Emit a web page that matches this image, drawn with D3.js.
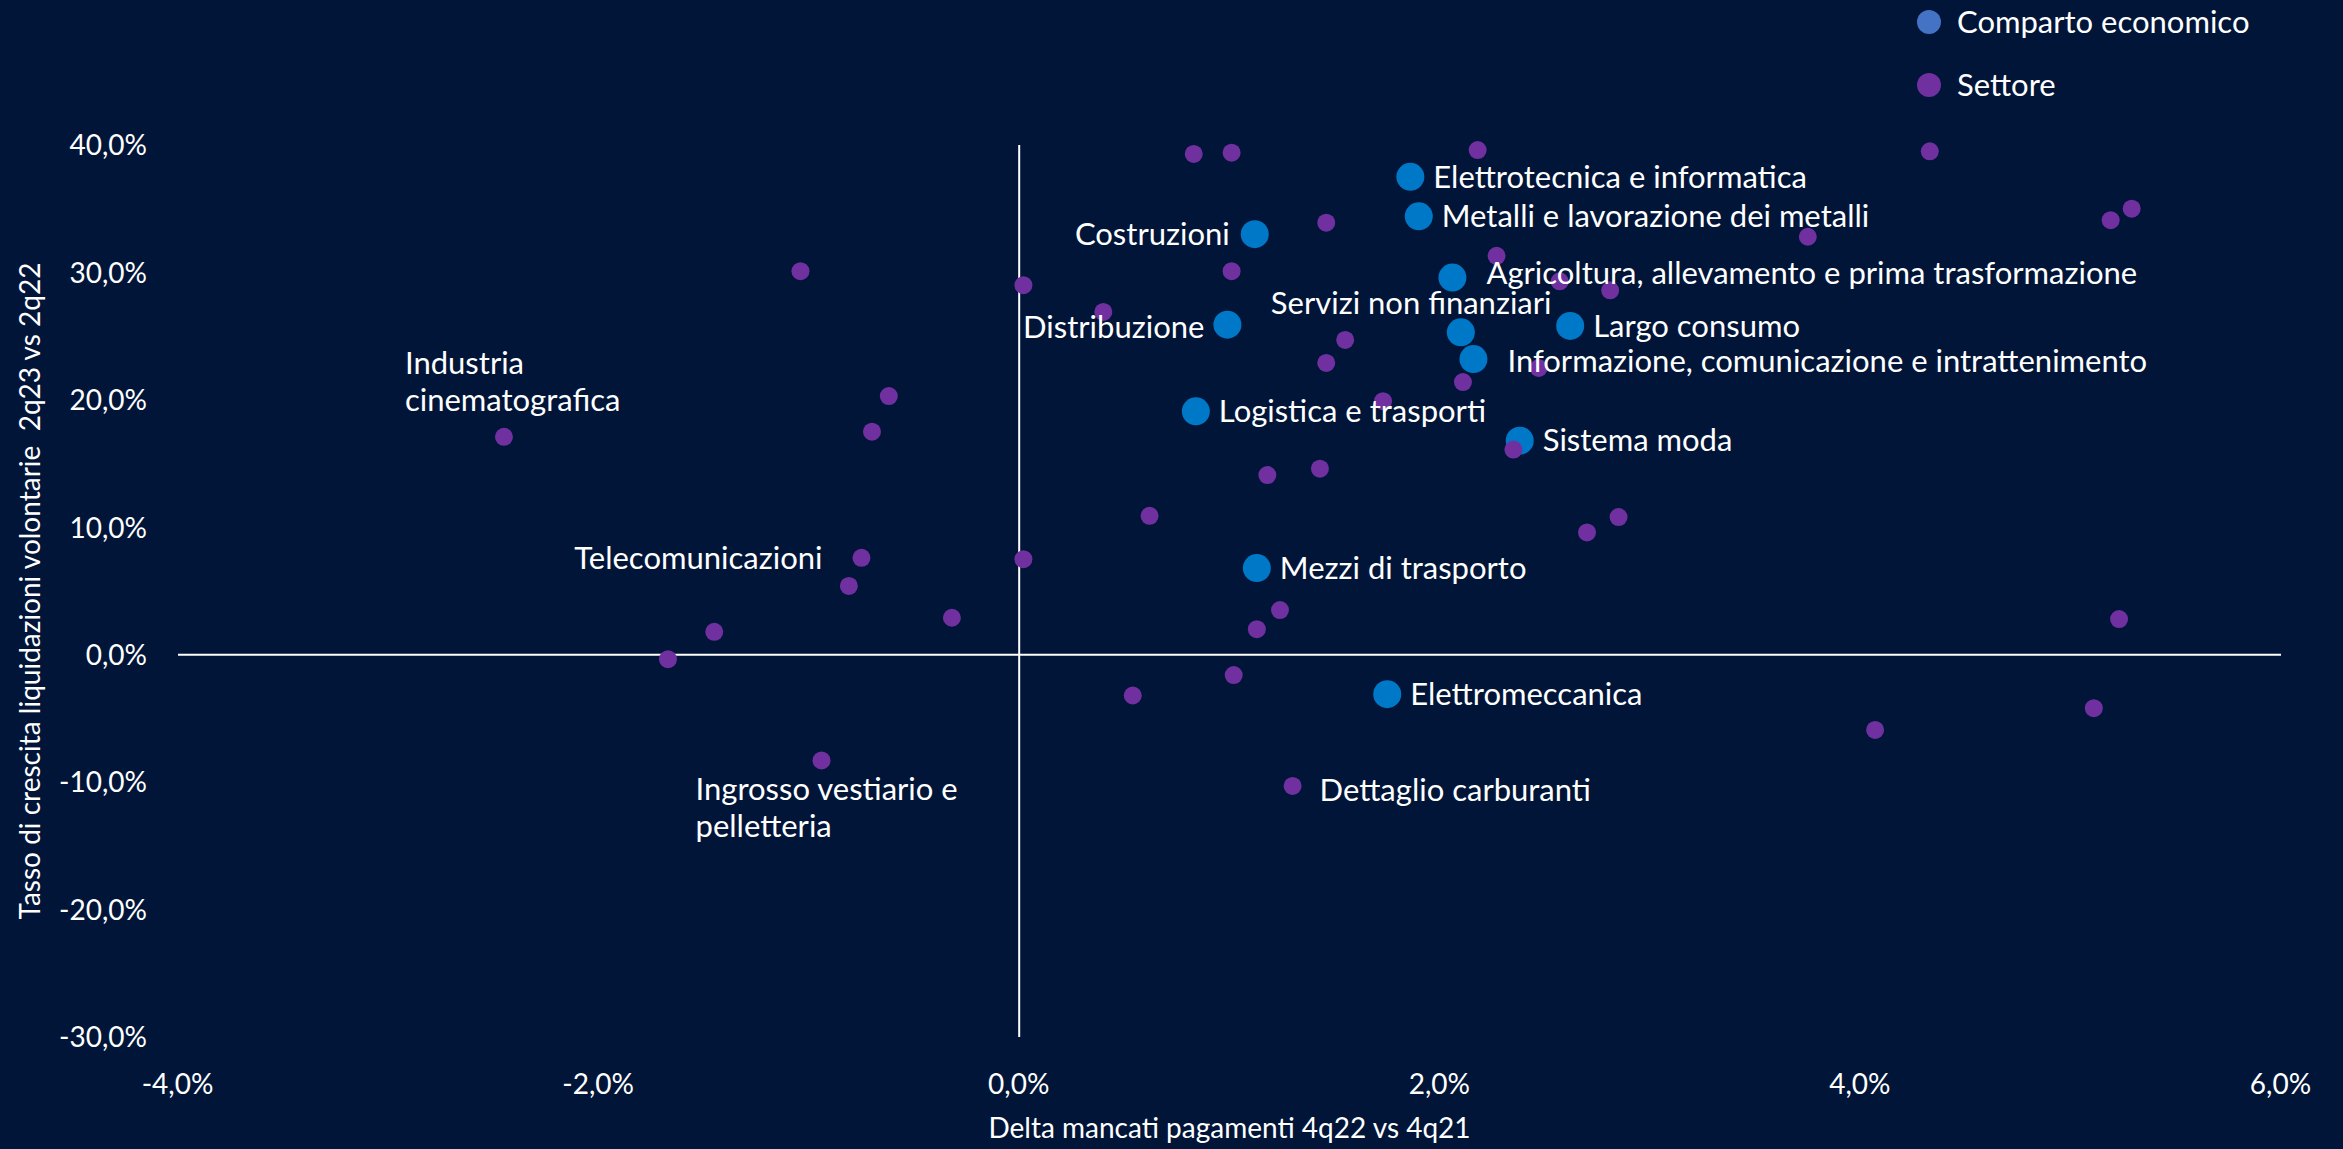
<!DOCTYPE html>
<html>
<head>
<meta charset="utf-8">
<script src="https://cdn.jsdelivr.net/npm/d3@7"></script>
<style>
  html, body { margin: 0; padding: 0; background: #001538; }
  svg { display: block; }
  text { font-family: "Source Sans Pro", Lato, "Noto Sans", sans-serif; fill: #ffffff; }
</style>
</head>
<body>
<svg id="chart"></svg>
<script>
var W = 2343;
var H = 1149;
const BG_COLOR = '#001538';
const COMPARTO_COLOR = '#0078c8';
const SETTORE_COLOR = '#7030a0';
const LEGEND_COMPARTO = '#4472c4';

// comparti economici (grandi, blu) - x: delta mancati pagamenti, y: tasso crescita liquidazioni
var comparto_names = [
    "Elettrotecnica e informatica",
    "Metalli e lavorazione dei metalli",
    "Costruzioni",
    "Agricoltura, allevamento e prima trasformazione",
    "Distribuzione",
    "Servizi non finanziari",
    "Largo consumo",
    "Informazione, comunicazione e intrattenimento",
    "Logistica e trasporti",
    "Sistema moda",
    "Mezzi di trasporto",
    "Elettromeccanica"
];
var comparto_x = [1.86, 1.90, 1.12, 2.06, 0.99, 2.10, 2.62, 2.16, 0.84, 2.38, 1.13, 1.75];
var comparto_y = [37.5, 34.4, 33.0, 29.6, 25.9, 25.3, 25.8, 23.2, 19.1, 16.8, 6.8, -3.1];

// settori (piccoli, viola)
var settore_x = [0.83, 1.01, 2.18, 4.33, 5.29, 5.19, 1.46, 3.75, 2.27, -1.04, 1.01, 0.02,
                 2.57, 2.81, 0.40, 1.55, 1.46, 2.47, 2.11, -0.62, 1.73, -0.70, -2.45, 2.35,
                 1.43, 1.18, 0.62, 2.85, 2.70, -0.75, 0.02, -0.81, -0.32, 1.24, 5.23, 1.13,
                 -1.45, -1.67, 0.54, 1.02, 5.11, 4.07, -0.94, 1.30];
var settore_y = [39.3, 39.4, 39.6, 39.5, 35.0, 34.1, 33.9, 32.8, 31.3, 30.1, 30.1, 29.0,
                 29.3, 28.6, 26.9, 24.7, 22.9, 22.5, 21.4, 20.3, 19.9, 17.5, 17.1, 16.1,
                 14.6, 14.1, 10.9, 10.8, 9.6, 7.6, 7.5, 5.4, 2.9, 3.5, 2.8, 2.0,
                 1.8, -0.35, -3.2, -1.6, -4.2, -5.9, -8.3, -10.3];
// settori con etichetta (indice nella lista settori)
var settore_labels = [
    {idx: 22, lines: ["Industria", "cinematografica"]},
    {idx: 29, lines: ["Telecomunicazioni"]},
    {idx: 42, lines: ["Ingrosso vestiario e", "pelletteria"]},
    {idx: 43, lines: ["Dettaglio carburanti"]}
];

var x_ticks = [-4, -2, 0, 2, 4, 6];
var y_ticks = [40, 30, 20, 10, 0, -10, -20, -30];
var legend_items = ["Comparto economico", "Settore"];

// label placement (offsets in pixel from the point)
var comparto_label_pos = [
    {dx: 23, dy: 0, anchor: "start"},
    {dx: 23, dy: 0, anchor: "start"},
    {dx: -25, dy: 0, anchor: "end"},
    {dx: 34, dy: -4, anchor: "start"},
    {dx: -23, dy: 2, anchor: "end"},
    {dx: -190, dy: -29, anchor: "start"},
    {dx: 23, dy: 0, anchor: "start"},
    {dx: 34, dy: 2, anchor: "start"},
    {dx: 23, dy: 0, anchor: "start"},
    {dx: 23, dy: 0, anchor: "start"},
    {dx: 23, dy: 0, anchor: "start"},
    {dx: 23, dy: 0, anchor: "start"}
];
var settore_label_pos = [
    {dx: -99, dy: -74, anchor: "start"},
    {dx: -39, dy: 0, anchor: "end"},
    {dx: -126, dy: 29, anchor: "start"},
    {dx: 27, dy: 4, anchor: "start"}
];

var fmt = function(v){ return d3.format(".1f")(v).replace(".", ",").replace("\u2212", "-") + "%"; };

var svg = d3.select("#chart")
    .attr("width", W)
    .attr("height", H);

svg.append("rect")
    .attr("width", W)
    .attr("height", H)
    .attr("fill", BG_COLOR);

var x = d3.scaleLinear().domain([-4, 6]).range([178, 2281]);
var y = d3.scaleLinear().domain([-30, 40]).range([1037, 145]);

// zero lines
svg.append("line")
    .attr("x1", x(-4)).attr("x2", x(6))
    .attr("y1", y(0)).attr("y2", y(0))
    .attr("stroke", "#ffffff").attr("stroke-width", 2);
svg.append("line")
    .attr("x1", x(0)).attr("x2", x(0))
    .attr("y1", y(40)).attr("y2", y(-30))
    .attr("stroke", "#ffffff").attr("stroke-width", 2);

// tick labels
var xAxis = d3.axisBottom(x).tickValues(x_ticks).tickFormat(fmt).tickSize(0).tickPadding(0);
var gx = svg.append("g").attr("transform", "translate(-1,1094)").call(xAxis);
gx.select(".domain").remove();
gx.attr("font-family", null).attr("font-size", null);
gx.selectAll("text").attr("font-size", 28).attr("fill", "#ffffff").attr("dy", 0);

var yAxis = d3.axisLeft(y).tickValues(y_ticks).tickFormat(fmt).tickSize(0).tickPadding(0);
var gy = svg.append("g").attr("transform", "translate(147,0)").call(yAxis);
gy.select(".domain").remove();
gy.attr("font-family", null).attr("font-size", null);
gy.selectAll("text").attr("font-size", 28).attr("fill", "#ffffff").attr("dy", "0.35em");

// axis titles
svg.append("text")
    .attr("x", (x(-4) + x(6)) / 2)
    .attr("y", 1128)
    .attr("dy", "0.35em")
    .attr("text-anchor", "middle")
    .attr("font-size", 28)
    .text("Delta mancati pagamenti 4q22 vs 4q21");

svg.append("text")
    .attr("transform", "translate(30," + ((y(40) + y(-30)) / 2) + ") rotate(-90)")
    .attr("dy", "0.35em")
    .attr("text-anchor", "middle")
    .attr("font-size", 28)
    .style("white-space", "pre")
    .text("Tasso di crescita liquidazioni volontarie  2q23 vs 2q22");

// comparto points
var comparto_data = comparto_names.map(function(n, i){
    return {name: n, x: comparto_x[i], y: comparto_y[i], pos: comparto_label_pos[i]};
});
svg.append("g").selectAll("circle")
    .data(comparto_data)
    .join("circle")
    .attr("cx", function(d){ return x(d.x); })
    .attr("cy", function(d){ return y(d.y); })
    .attr("r", 14)
    .attr("fill", COMPARTO_COLOR);

// settore points
var settore_data = settore_x.map(function(v, i){ return {x: v, y: settore_y[i]}; });
svg.append("g").selectAll("circle")
    .data(settore_data)
    .join("circle")
    .attr("cx", function(d){ return x(d.x); })
    .attr("cy", function(d){ return y(d.y); })
    .attr("r", 9)
    .attr("fill", SETTORE_COLOR);

// comparto labels
svg.append("g").selectAll("text")
    .data(comparto_data)
    .join("text")
    .attr("x", function(d){ return x(d.x) + d.pos.dx; })
    .attr("y", function(d){ return y(d.y) + d.pos.dy; })
    .attr("dy", "0.35em")
    .attr("text-anchor", function(d){ return d.pos.anchor; })
    .attr("font-size", 31)
    .text(function(d){ return d.name; });

// settore labels
settore_labels.forEach(function(l, k){
    var p = settore_label_pos[k];
    var px = x(settore_x[l.idx]) + p.dx;
    var py = y(settore_y[l.idx]) + p.dy;
    var t = svg.append("text")
        .attr("text-anchor", p.anchor)
        .attr("font-size", 31);
    l.lines.forEach(function(line, j){
        t.append("tspan")
            .attr("x", px)
            .attr("y", py + j * 37)
            .attr("dy", "0.35em")
            .text(line);
    });
});

// legend
var legend = svg.append("g").attr("transform", "translate(1929,22)");
legend.selectAll("circle")
    .data(legend_items)
    .join("circle")
    .attr("cx", 0)
    .attr("cy", function(d, i){ return i * 63; })
    .attr("r", 12)
    .attr("fill", function(d, i){ return i === 0 ? LEGEND_COMPARTO : SETTORE_COLOR; });
legend.selectAll("text")
    .data(legend_items)
    .join("text")
    .attr("x", 28)
    .attr("y", function(d, i){ return i * 63; })
    .attr("dy", "0.35em")
    .attr("font-size", 31)
    .text(function(d){ return d; });
</script>
</body>
</html>
